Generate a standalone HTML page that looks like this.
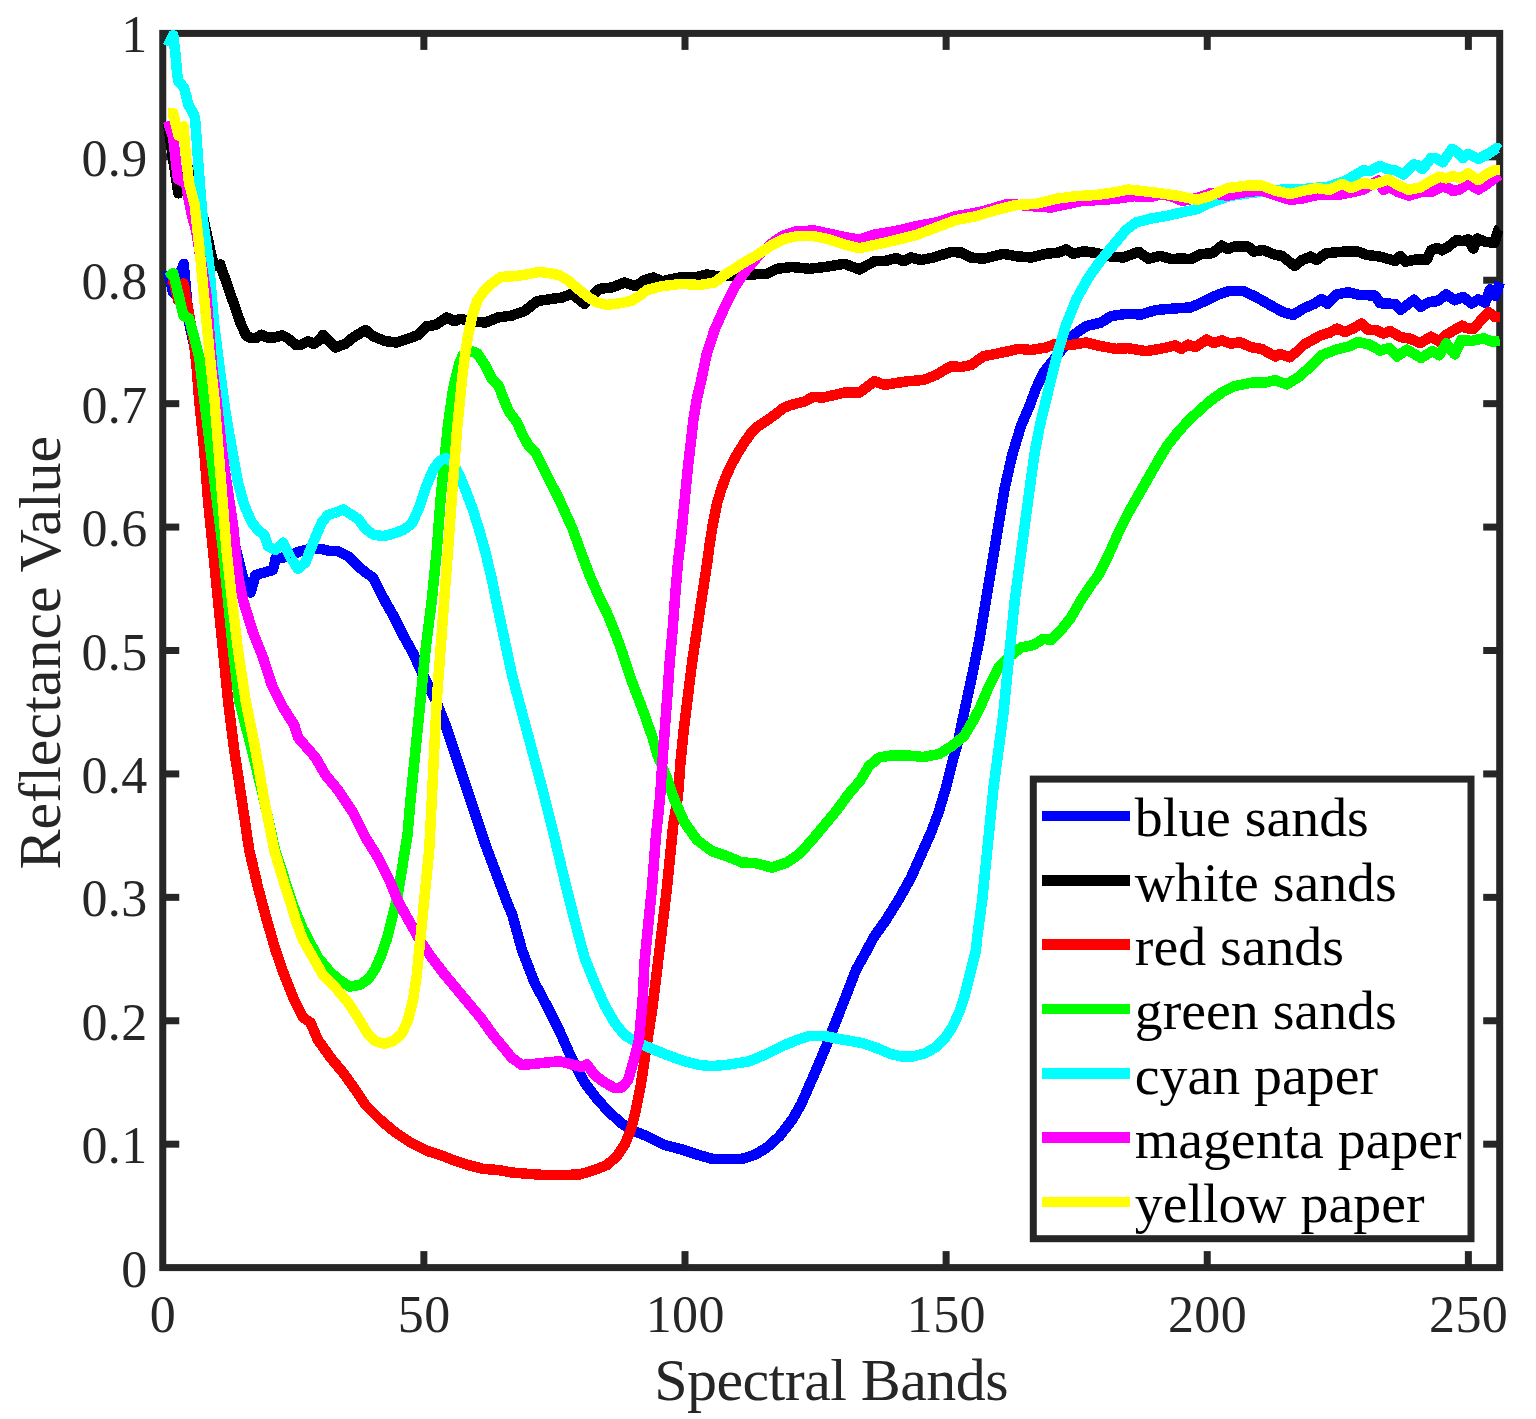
<!DOCTYPE html>
<html lang="en"><head><meta charset="utf-8"><title>Spectral reflectance curves</title>
<style>
html,body{margin:0;padding:0;background:#fff;}
body{width:1536px;height:1419px;overflow:hidden;}
svg{display:block;}
text{font-family:"Liberation Serif",serif;fill:#262626;}
.tk{font-size:52px;letter-spacing:0.4px;}
.lb{font-size:60px;}
.lg{font-size:55.8px;fill:#000;}
</style></head><body>
<svg width="1536" height="1419" viewBox="0 0 1536 1419">
<rect x="0" y="0" width="1536" height="1419" fill="#fff"/>

<g stroke="#262626" stroke-width="7" fill="none" stroke-linecap="butt">
<rect x="162.75" y="33.4" width="1336.95" height="1234.20"/>
<line x1="423.87" y1="1267.6" x2="423.87" y2="1251.1"/>
<line x1="423.87" y1="33.4" x2="423.87" y2="49.9"/>
<line x1="685.00" y1="1267.6" x2="685.00" y2="1251.1"/>
<line x1="685.00" y1="33.4" x2="685.00" y2="49.9"/>
<line x1="946.12" y1="1267.6" x2="946.12" y2="1251.1"/>
<line x1="946.12" y1="33.4" x2="946.12" y2="49.9"/>
<line x1="1207.24" y1="1267.6" x2="1207.24" y2="1251.1"/>
<line x1="1207.24" y1="33.4" x2="1207.24" y2="49.9"/>
<line x1="1468.37" y1="1267.6" x2="1468.37" y2="1251.1"/>
<line x1="1468.37" y1="33.4" x2="1468.37" y2="49.9"/>
<line x1="162.75" y1="1144.18" x2="179.25" y2="1144.18"/>
<line x1="1499.7" y1="1144.18" x2="1483.2" y2="1144.18"/>
<line x1="162.75" y1="1020.76" x2="179.25" y2="1020.76"/>
<line x1="1499.7" y1="1020.76" x2="1483.2" y2="1020.76"/>
<line x1="162.75" y1="897.34" x2="179.25" y2="897.34"/>
<line x1="1499.7" y1="897.34" x2="1483.2" y2="897.34"/>
<line x1="162.75" y1="773.92" x2="179.25" y2="773.92"/>
<line x1="1499.7" y1="773.92" x2="1483.2" y2="773.92"/>
<line x1="162.75" y1="650.50" x2="179.25" y2="650.50"/>
<line x1="1499.7" y1="650.50" x2="1483.2" y2="650.50"/>
<line x1="162.75" y1="527.08" x2="179.25" y2="527.08"/>
<line x1="1499.7" y1="527.08" x2="1483.2" y2="527.08"/>
<line x1="162.75" y1="403.66" x2="179.25" y2="403.66"/>
<line x1="1499.7" y1="403.66" x2="1483.2" y2="403.66"/>
<line x1="162.75" y1="280.24" x2="179.25" y2="280.24"/>
<line x1="1499.7" y1="280.24" x2="1483.2" y2="280.24"/>
<line x1="162.75" y1="156.82" x2="179.25" y2="156.82"/>
<line x1="1499.7" y1="156.82" x2="1483.2" y2="156.82"/>
</g>
<g class="tk" text-anchor="middle">
<text x="163.05" y="1332.1">0</text>
<text x="424.17" y="1332.1">50</text>
<text x="685.30" y="1332.1">100</text>
<text x="946.42" y="1332.1">150</text>
<text x="1207.54" y="1332.1">200</text>
<text x="1468.67" y="1332.1">250</text>
</g>
<g class="tk" text-anchor="end">
<text x="147.6" y="1286.60">0</text>
<text x="147.6" y="1163.18">0.1</text>
<text x="147.6" y="1039.76">0.2</text>
<text x="147.6" y="916.34">0.3</text>
<text x="147.6" y="792.92">0.4</text>
<text x="147.6" y="669.50">0.5</text>
<text x="147.6" y="546.08">0.6</text>
<text x="147.6" y="422.66">0.7</text>
<text x="147.6" y="299.24">0.8</text>
<text x="147.6" y="175.82">0.9</text>
<text x="147.6" y="52.40">1</text>
</g>
<text class="lb" x="654.2" y="1399.6" style="letter-spacing:-0.55px">Spectral Bands</text>
<text class="lb" text-anchor="middle" transform="translate(59.7,652.6) rotate(-90)">Reflectance Value</text>
<g fill="none" stroke-width="10.5" stroke-linejoin="round" stroke-linecap="butt" shape-rendering="crispEdges">
<polyline stroke="#0000ff" points="168.0,270.5 173.2,292.9 178.4,278.5 183.7,263.9 188.9,322.0 194.1,345.0 206.0,400.0 226.5,500.0 236.0,550.0 243.0,577.5 250.5,592.5 255.5,575.0 264.2,572.5 273.0,570.0 275.5,558.8 283.0,557.5 290.5,555.0 300.5,551.2 310.5,548.8 320.5,548.8 330.5,551.2 338.0,551.2 348.0,556.2 358.0,566.2 365.5,572.5 373.0,577.5 379.2,590.0 386.0,603.0 393.0,615.0 403.0,635.0 413.0,653.0 423.0,675.0 435.5,700.0 445.5,725.0 455.5,755.0 465.5,785.0 475.5,815.0 485.5,845.0 496.8,875.0 508.0,905.0 512.0,914.0 522.0,950.0 534.5,982.5 547.0,1006.0 559.5,1031.0 572.0,1059.0 584.5,1082.5 597.0,1099.0 609.5,1112.5 622.0,1123.8 634.5,1131.2 647.0,1136.2 664.5,1145.0 682.0,1149.5 697.0,1154.5 712.0,1158.8 727.0,1159.2 742.0,1158.8 754.5,1155.0 767.0,1147.5 779.5,1136.2 792.0,1120.0 801.0,1104.5 813.5,1076.0 825.0,1049.0 835.5,1022.5 846.0,996.0 856.0,970.0 866.0,952.0 873.5,937.5 886.0,920.0 898.5,900.0 911.0,877.5 921.0,855.0 931.0,832.5 938.5,812.5 946.0,787.5 952.2,762.5 958.5,740.0 964.0,713.0 972.2,675.0 979.8,637.5 986.0,600.0 992.2,562.5 998.5,525.0 1004.8,487.5 1012.2,455.0 1021.0,426.0 1029.5,406.0 1036.0,388.5 1043.5,372.5 1053.5,360.0 1063.5,347.5 1073.5,335.0 1086.0,326.2 1101.0,322.5 1111.0,316.2 1126.0,313.8 1141.0,314.5 1156.0,310.0 1176.9,308.3 1190.5,307.4 1202.3,302.3 1215.9,295.6 1227.7,291.3 1242.9,290.8 1254.8,296.4 1270.0,304.9 1281.9,311.6 1292.9,315.0 1303.9,308.3 1314.0,304.0 1321.6,299.0 1327.6,304.0 1336.0,294.7 1347.9,292.2 1358.0,294.7 1375.0,295.6 1380.0,303.2 1395.3,304.0 1400.4,310.0 1407.1,304.9 1413.9,299.8 1420.5,306.8 1429.3,302.0 1437.7,301.1 1446.2,294.3 1454.7,300.3 1463.1,296.9 1471.6,303.6 1478.3,299.4 1485.1,302.8 1490.2,289.3 1495.3,296.0 1499.7,282.5"/>
<polyline stroke="#000000" points="168.0,123.0 173.2,160.0 178.4,193.3 183.7,178.0 188.9,169.0 194.1,178.0 199.4,200.0 203.7,220.0 212.0,258.0 215.0,265.9 220.2,264.6 225.4,279.6 230.6,294.7 235.9,309.6 241.1,324.6 246.3,335.7 250.7,337.8 255.9,338.0 261.7,334.7 267.4,337.6 274.2,337.6 282.0,335.4 287.2,337.8 296.1,345.1 300.8,344.8 308.1,341.2 313.8,343.8 320.0,339.7 323.0,335.0 328.0,340.0 335.5,347.5 345.5,343.8 353.0,337.5 365.5,330.0 373.0,336.2 385.5,341.2 396.8,342.5 408.0,338.8 418.0,335.0 426.8,326.2 435.5,325.0 446.8,317.5 454.2,321.2 460.5,318.8 470.5,321.2 485.5,322.5 498.0,317.5 512.0,315.5 524.5,311.2 537.0,301.2 549.5,299.2 562.0,297.5 572.0,293.8 584.5,303.8 599.5,288.8 612.0,287.5 624.5,282.5 635.8,286.2 644.5,280.0 653.2,277.5 662.0,281.2 682.0,277.0 697.0,277.0 707.0,274.5 717.0,276.2 737.0,275.0 767.0,273.8 777.0,268.8 792.0,267.0 809.5,268.8 824.5,267.0 844.5,263.8 859.5,269.5 874.5,261.2 884.5,261.2 896.0,258.0 903.5,261.2 911.0,257.5 921.0,260.0 933.5,257.5 951.0,252.0 961.0,252.5 971.0,257.5 983.5,258.8 1003.5,253.8 1016.0,256.2 1031.0,257.5 1046.0,253.8 1058.5,252.5 1066.0,249.5 1073.5,253.8 1083.5,251.2 1096.0,253.0 1108.5,256.2 1123.5,257.5 1138.5,251.8 1148.5,258.8 1160.0,255.8 1171.8,259.2 1180.3,258.3 1190.5,259.2 1200.6,254.1 1212.5,253.2 1221.8,245.6 1227.7,249.0 1234.5,246.5 1248.0,246.5 1253.9,251.6 1263.2,249.9 1275.1,254.9 1281.9,255.8 1294.6,265.9 1302.2,260.0 1310.6,256.6 1316.6,260.0 1325.9,253.2 1344.5,251.6 1358.0,251.6 1366.5,254.9 1380.0,256.6 1395.3,260.9 1400.4,255.8 1405.4,261.7 1415.7,259.6 1426.7,259.6 1431.0,250.3 1436.9,247.8 1442.0,250.3 1447.9,247.0 1456.3,240.2 1463.1,241.0 1468.2,239.3 1473.3,248.6 1477.5,238.5 1485.1,241.9 1494.4,242.7 1498.2,230.0 1499.7,229.0"/>
<polyline stroke="#ff0000" points="168.0,278.5 173.2,279.0 178.4,300.9 183.7,283.4 188.9,313.6 194.1,343.4 196.5,366.0 199.2,400.0 204.2,450.0 208.0,500.0 213.0,550.0 218.0,600.0 223.0,650.0 228.0,700.0 234.2,750.0 241.8,800.0 249.2,850.0 258.0,887.5 266.8,920.0 275.5,950.0 284.2,975.0 294.2,1000.0 303.0,1017.5 310.5,1022.5 318.0,1040.0 330.5,1057.5 343.0,1072.5 355.5,1090.0 365.5,1105.0 380.5,1120.0 395.5,1132.5 410.5,1142.5 428.0,1151.2 440.5,1155.0 453.0,1160.0 468.0,1165.0 483.0,1168.8 498.0,1170.0 512.0,1172.5 527.0,1173.8 544.5,1175.0 562.0,1175.0 579.5,1174.5 594.5,1170.0 607.0,1165.0 617.0,1156.2 624.5,1145.0 630.8,1130.0 635.8,1110.0 640.8,1085.0 644.5,1060.0 648.2,1035.0 652.0,1011.0 659.5,950.0 667.0,887.5 673.2,825.0 677.9,797.0 680.4,763.1 683.8,729.3 688.0,695.4 692.2,661.6 697.3,627.7 702.4,593.9 707.3,562.0 709.8,543.0 713.0,523.4 716.9,503.9 720.8,490.8 725.4,477.8 731.3,464.7 737.8,453.0 744.3,442.6 750.8,433.5 757.3,426.9 765.2,421.7 774.3,415.2 783.4,408.0 789.9,405.4 796.5,403.5 804.3,401.5 813.4,396.9 822.5,397.6 831.7,395.6 844.5,392.5 859.5,392.5 874.5,381.2 884.5,385.0 896.0,383.0 908.5,381.2 923.5,380.0 936.0,375.0 951.0,366.2 961.0,367.0 971.0,365.0 983.5,356.2 996.0,353.8 1008.5,351.2 1018.5,348.8 1031.0,350.0 1046.0,347.5 1056.0,343.8 1071.0,345.0 1086.0,342.5 1101.0,346.2 1116.0,348.8 1128.5,348.2 1146.0,351.2 1160.0,348.9 1175.2,345.5 1181.2,348.9 1187.9,344.7 1195.5,347.2 1206.5,339.6 1214.2,343.0 1221.8,340.4 1231.1,343.8 1239.6,342.1 1251.4,347.2 1261.6,348.9 1275.1,356.5 1280.2,354.0 1289.5,357.3 1297.1,351.4 1303.9,344.7 1320.8,335.3 1329.3,332.8 1336.9,328.6 1345.3,332.0 1354.7,327.7 1361.4,323.5 1367.3,329.4 1376.7,330.3 1383.4,333.6 1390.2,331.1 1400.4,337.0 1410.5,338.7 1420.0,343.2 1431.0,336.7 1439.4,341.7 1446.2,335.0 1453.0,330.7 1462.3,325.7 1466.5,328.2 1473.3,329.0 1480.0,321.4 1488.5,312.1 1495.3,317.2 1499.7,317.2"/>
<polyline stroke="#00ff00" points="168.0,278.1 173.2,273.2 178.4,294.5 183.7,316.3 188.9,317.9 194.1,337.0 199.3,358.0 204.0,398.0 210.5,450.0 216.8,500.0 223.0,550.0 228.0,600.0 233.0,650.0 239.0,700.0 252.0,750.0 264.0,800.0 275.0,850.0 287.4,887.9 294.2,908.2 302.6,928.5 317.9,957.3 330.4,972.2 340.0,980.5 349.9,986.6 360.0,984.9 368.5,979.0 375.3,968.8 381.2,955.3 387.1,938.3 392.2,918.0 397.3,897.7 401.5,872.3 404.9,850.3 407.5,835.0 410.5,800.0 415.5,750.0 420.5,700.0 425.5,650.0 431.8,600.0 436.8,550.0 440.5,500.0 444.2,462.5 448.0,425.0 453.0,390.0 456.3,375.1 459.5,363.0 463.0,355.0 468.0,351.5 472.5,351.5 477.3,353.5 484.9,364.9 491.7,378.5 498.5,385.3 503.6,398.8 508.6,411.0 517.1,422.5 522.2,434.3 528.9,446.2 535.7,453.0 542.5,466.5 549.3,480.0 559.5,500.0 572.0,527.5 582.0,555.0 589.5,575.0 600.0,598.9 606.8,612.5 614.4,631.1 622.0,651.4 629.6,675.1 637.2,695.4 644.9,715.7 652.5,737.7 657.5,755.0 667.7,780.0 674.5,800.0 684.5,822.5 697.0,840.0 712.0,851.2 727.0,856.2 742.0,862.5 754.5,863.0 772.0,867.5 787.0,862.5 799.5,853.8 812.0,840.0 824.5,825.0 837.0,810.0 849.0,793.5 860.0,781.0 869.0,766.0 879.0,757.5 891.0,755.5 908.5,755.5 923.5,757.0 939.0,754.0 952.0,746.0 964.0,736.0 973.5,720.0 980.0,707.5 988.5,687.5 998.5,667.5 1008.5,657.5 1021.0,647.5 1033.5,645.0 1043.5,638.8 1051.0,640.0 1061.0,630.0 1071.0,617.5 1081.0,600.0 1091.0,585.0 1098.5,575.0 1108.5,555.0 1118.5,532.5 1128.5,512.5 1138.5,495.0 1148.5,477.5 1158.5,460.0 1167.0,446.0 1178.0,432.0 1190.0,419.0 1200.0,410.0 1210.0,401.0 1222.6,392.0 1234.5,386.1 1251.4,382.7 1264.9,382.7 1275.1,380.2 1286.9,384.4 1298.8,376.8 1312.3,365.0 1322.5,354.8 1336.0,349.7 1349.6,346.3 1358.0,342.1 1369.9,344.7 1380.0,350.6 1389.3,348.0 1397.0,356.5 1407.1,349.7 1421.0,358.0 1432.7,351.0 1439.4,355.3 1446.2,343.4 1454.7,354.4 1461.4,340.0 1471.6,340.9 1483.4,338.3 1491.9,341.7 1499.7,340.9"/>
<polyline stroke="#00ffff" points="168.0,46.2 173.2,35.2 175.4,53.9 176.9,70.8 178.1,80.9 183.9,87.7 186.4,96.2 188.1,104.6 192.3,111.4 194.9,117.3 196.1,131.3 198.2,162.6 200.6,193.8 202.9,220.0 208.9,261.7 211.5,293.0 214.1,324.3 219.3,366.0 225.5,412.5 232.0,450.0 238.0,482.5 244.2,505.0 251.8,522.5 258.0,530.0 264.2,535.0 268.0,546.2 275.5,550.0 283.0,542.5 290.5,557.5 298.0,568.8 305.5,562.5 314.2,540.0 321.8,522.5 328.0,515.0 335.5,512.5 343.5,509.5 351.8,515.0 358.0,518.8 365.5,528.8 373.0,534.5 383.0,536.2 393.0,533.8 403.0,530.0 411.8,523.8 419.2,507.5 426.8,485.0 433.0,470.0 439.2,461.2 445.5,458.0 453.0,462.5 459.2,475.0 465.5,490.0 473.0,510.0 479.2,530.0 485.5,552.5 492.0,580.0 496.0,600.0 503.0,632.5 512.0,675.0 522.0,712.5 532.0,750.0 542.0,787.5 554.5,837.5 564.5,880.0 574.5,920.0 584.5,957.5 594.5,982.5 604.5,1005.0 614.5,1022.5 624.5,1035.0 637.0,1042.5 652.0,1048.8 667.0,1055.0 684.5,1061.2 699.5,1065.0 712.0,1066.2 729.5,1064.5 749.5,1061.2 767.0,1053.8 782.0,1046.2 797.0,1040.0 809.5,1035.8 824.5,1036.0 842.0,1039.5 862.0,1043.0 878.2,1048.6 890.8,1054.0 901.7,1056.4 912.7,1056.4 925.2,1053.3 936.2,1047.0 945.5,1037.6 953.4,1025.1 959.6,1011.0 964.3,996.9 968.2,981.3 972.1,965.6 976.0,950.0 977.2,937.5 982.2,900.0 986.0,862.5 989.8,825.0 993.5,787.5 998.5,750.0 1003.5,712.5 1007.2,675.0 1011.0,637.5 1014.8,600.0 1019.8,562.5 1024.8,525.0 1029.8,487.5 1034.8,452.0 1039.8,426.0 1046.0,400.0 1052.2,375.0 1058.5,350.0 1066.0,325.0 1076.0,300.0 1088.5,277.5 1101.0,260.0 1113.5,245.0 1126.0,230.0 1136.0,222.5 1151.0,218.5 1168.5,215.5 1183.5,212.0 1197.2,209.0 1210.8,202.5 1230.0,196.0 1251.4,192.8 1281.9,189.6 1298.8,189.4 1329.3,186.6 1346.2,180.5 1363.1,170.3 1369.9,171.2 1380.0,166.1 1388.5,169.5 1395.3,170.3 1403.7,174.5 1413.9,164.4 1419.1,165.7 1422.5,169.1 1431.0,158.1 1436.0,158.1 1442.8,162.3 1452.1,148.8 1457.2,152.2 1463.1,158.1 1468.2,153.9 1478.3,158.9 1486.8,154.7 1497.0,147.9 1499.7,149.6"/>
<polyline stroke="#ff00ff" points="168.0,121.2 173.2,138.0 177.9,179.2 186.0,183.4 188.7,199.1 191.8,214.7 196.0,230.3 198.6,246.0 206.2,293.0 212.1,366.0 216.5,400.0 222.0,450.0 225.5,475.0 233.0,525.0 238.0,575.0 243.0,600.0 253.0,632.5 263.0,657.5 271.8,685.0 283.0,707.5 294.2,725.0 298.0,737.5 315.5,757.5 325.5,775.0 338.0,790.0 353.0,812.5 365.5,837.5 378.0,857.5 390.5,882.5 398.0,901.0 408.0,919.0 419.2,939.0 430.5,956.0 443.0,972.5 455.5,987.5 468.0,1002.5 480.5,1017.5 493.0,1035.0 505.5,1050.0 512.0,1058.0 522.0,1065.0 534.5,1063.8 547.0,1062.5 559.5,1061.2 572.0,1064.5 582.0,1067.0 587.0,1064.5 594.5,1075.0 604.5,1082.5 614.5,1088.0 622.0,1087.5 628.2,1080.0 633.2,1062.5 639.0,1040.0 642.6,1000.0 644.5,962.5 648.2,925.0 652.0,887.5 655.8,837.5 660.1,797.0 662.3,763.1 664.8,729.3 667.4,695.4 669.7,661.6 672.8,627.7 675.3,593.9 678.2,560.0 680.4,543.0 683.0,516.9 685.6,490.8 688.2,464.7 690.8,442.6 693.5,419.1 696.7,399.6 701.3,380.0 706.5,355.0 714.5,330.0 724.5,307.5 734.5,287.5 744.5,272.5 757.0,257.5 769.5,245.0 782.0,236.2 797.0,231.2 814.5,230.5 829.5,233.8 844.5,237.0 859.5,239.5 874.5,234.5 896.0,231.0 916.0,226.2 936.0,222.5 956.0,216.2 980.0,212.0 1008.5,203.8 1030.0,206.0 1051.0,207.5 1081.0,201.2 1116.0,198.8 1133.5,196.2 1150.0,197.0 1160.0,194.5 1170.2,195.7 1182.0,200.8 1197.2,198.2 1210.8,193.2 1227.7,195.7 1244.6,192.3 1261.6,190.6 1275.1,194.9 1290.3,199.9 1303.9,198.2 1317.4,194.9 1337.7,194.9 1351.3,192.3 1363.1,189.8 1378.3,180.5 1383.4,189.8 1389.3,187.2 1398.7,192.3 1408.8,195.7 1420.3,192.2 1431.0,191.9 1441.1,186.9 1447.9,187.7 1453.0,191.1 1459.7,189.4 1468.2,183.5 1478.3,189.4 1486.8,184.3 1495.3,177.6 1499.7,175.0"/>
<polyline stroke="#ffff00" points="168.0,113.0 173.2,113.3 178.4,135.5 183.7,126.4 184.6,141.7 186.7,162.6 189.1,183.4 194.6,204.3 196.9,225.1 199.2,246.0 210.8,366.0 214.5,400.0 218.5,450.0 222.5,500.0 226.5,550.0 232.0,600.0 238.0,650.0 245.5,700.0 255.5,750.0 264.2,800.0 274.2,850.0 285.5,887.5 291.0,904.0 296.0,921.0 303.0,940.0 313.0,957.5 323.0,975.0 335.5,987.5 348.0,1002.5 358.0,1017.5 366.8,1032.5 375.5,1041.2 384.2,1043.8 393.0,1041.2 401.8,1033.8 408.0,1020.0 413.0,1000.0 416.8,975.0 419.2,950.0 421.8,925.0 424.2,900.0 429.2,850.0 431.8,800.0 434.2,750.0 436.8,700.0 440.5,650.0 444.2,600.0 448.0,550.0 451.9,497.0 454.5,463.1 457.0,429.3 459.6,403.9 462.1,378.5 464.6,358.2 468.0,336.2 472.2,315.9 477.3,300.6 483.2,292.2 491.7,283.7 501.0,276.9 515.4,276.1 527.3,274.4 539.1,271.8 549.3,273.2 559.4,275.2 567.9,280.3 578.0,288.8 588.2,297.2 596.7,302.3 606.8,304.9 620.4,303.2 632.2,300.6 640.0,295.5 647.0,290.0 662.0,286.2 682.0,283.8 699.5,285.0 714.5,282.5 724.5,275.0 742.0,263.8 757.0,255.0 772.0,245.0 784.5,238.8 797.0,236.2 812.0,235.8 827.0,238.8 842.0,243.8 859.5,248.2 874.5,245.0 896.0,240.0 916.0,235.0 936.0,227.5 956.0,220.0 976.0,216.2 996.0,210.0 1016.0,205.0 1036.0,203.8 1056.0,198.8 1076.0,196.2 1096.0,195.0 1113.5,192.5 1128.5,189.5 1143.5,191.2 1160.0,193.2 1176.9,195.7 1197.2,199.9 1210.8,195.7 1227.7,188.1 1248.0,185.5 1261.6,185.5 1275.1,190.6 1290.3,194.0 1303.9,190.6 1317.4,188.1 1329.3,189.8 1342.0,183.9 1351.3,188.1 1363.1,183.0 1373.3,184.7 1388.5,179.6 1398.7,185.5 1408.8,189.8 1420.3,187.5 1431.0,180.9 1439.4,176.7 1446.2,178.4 1453.0,175.9 1459.7,178.4 1468.2,173.3 1478.3,180.1 1486.8,174.2 1495.3,169.9 1499.7,169.9"/>
</g>
<rect x="1033.3" y="779.1" width="437.70" height="459.60" fill="#fff" stroke="#262626" stroke-width="7"/>
<line x1="1041.75" y1="815.90" x2="1129.75" y2="815.90" stroke="#0000ff" stroke-width="10.5" shape-rendering="crispEdges"/>
<text class="lg" x="1134.8" y="836.25">blue sands</text>
<line x1="1041.75" y1="880.26" x2="1129.75" y2="880.26" stroke="#000000" stroke-width="10.5" shape-rendering="crispEdges"/>
<text class="lg" x="1134.8" y="900.61">white sands</text>
<line x1="1041.75" y1="944.62" x2="1129.75" y2="944.62" stroke="#ff0000" stroke-width="10.5" shape-rendering="crispEdges"/>
<text class="lg" x="1134.8" y="964.97">red sands</text>
<line x1="1041.75" y1="1008.98" x2="1129.75" y2="1008.98" stroke="#00ff00" stroke-width="10.5" shape-rendering="crispEdges"/>
<text class="lg" x="1134.8" y="1029.33">green sands</text>
<line x1="1041.75" y1="1073.33" x2="1129.75" y2="1073.33" stroke="#00ffff" stroke-width="10.5" shape-rendering="crispEdges"/>
<text class="lg" x="1134.8" y="1093.68">cyan paper</text>
<line x1="1041.75" y1="1137.69" x2="1129.75" y2="1137.69" stroke="#ff00ff" stroke-width="10.5" shape-rendering="crispEdges"/>
<text class="lg" x="1134.8" y="1158.04">magenta paper</text>
<line x1="1041.75" y1="1202.05" x2="1129.75" y2="1202.05" stroke="#ffff00" stroke-width="10.5" shape-rendering="crispEdges"/>
<text class="lg" x="1134.8" y="1222.40">yellow paper</text>
</svg></body></html>
